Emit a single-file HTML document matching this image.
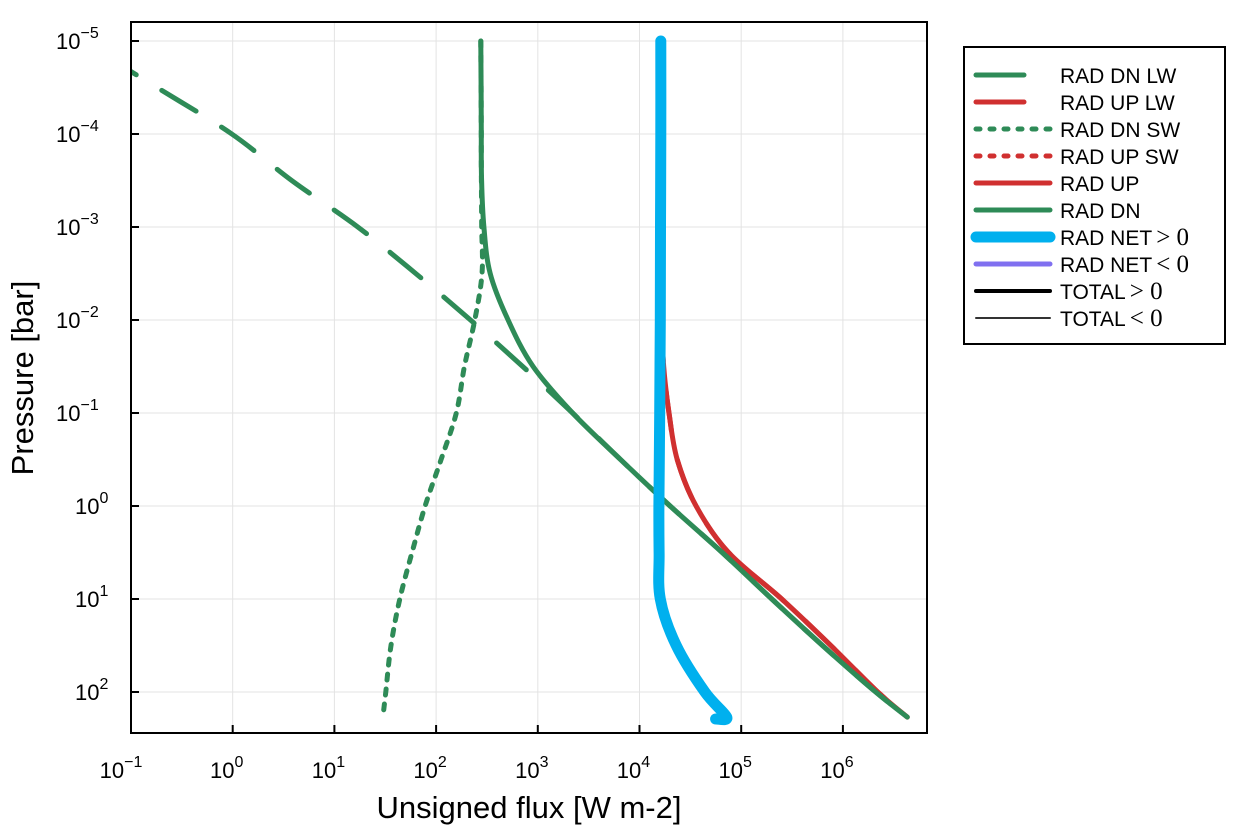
<!DOCTYPE html>
<html><head><meta charset="utf-8"><style>
body{margin:0;background:#fff;}
svg{display:block;font-family:"Liberation Sans",sans-serif;}
</style></head><body>
<svg id="chart" width="1250" height="833" xmlns="http://www.w3.org/2000/svg">
<rect width="1250" height="833" fill="#fff"/>
<g id="grid"></g>
<g id="series"></g>
<rect x="131" y="22" width="796" height="711" fill="none" stroke="#000" stroke-width="2"/>
<g id="ticks"></g>
<text x="529" y="818" font-size="31" text-anchor="middle">Unsigned flux [W m-2]</text>
<text transform="translate(33,378) rotate(-90)" font-size="31" text-anchor="middle">Pressure [bar]</text>
<g id="legend"></g>
</svg>
<script>
const xTicks=[-1,0,1,2,3,4,5,6];
const yTicks=[-5,-4,-3,-2,-1,0,1,2];
const pressure=[1e-5,3.16e-5,1e-4,3.16e-4,1e-3,3.16e-3,1e-2,3.16e-2,0.1,0.316,1,3.16,10,31.6,100,186];
const dnLW=[0.032,0.18,0.98,3.8,17,63,218,710,2200,6500,2.0e4,6.5e4,2.0e5,6.3e5,2.1e6,4.3e6];
const dnSW=[275,277,278,279,281,283,240,190,158,112,78,58,44,36,32,30];
const radDN=[275,277,278,280,295,340,510,900,2200,6500,2.0e4,6.5e4,2.0e5,6.3e5,2.1e6,4.3e6];
const radUP=[16500,16500,16500,16500,16500,16500,16500,17300,1.95e4,2.35e4,3.6e4,7.5e4,2.5e5,7.6e5,2.2e6,4.3e6];
const netP=[1e-5,1e-4,1e-3,1e-2,0.1,1,3.16,10,31.6,100,186,195];
const netF=[16200,16200,16100,16000,15800,15500,15600,16000,23000,44000,72000,56000];
const legendLabels=["RAD DN LW","RAD UP LW","RAD DN SW","RAD UP SW","RAD UP","RAD DN","RAD NET","RAD NET","TOTAL","TOTAL"];
const legendSuffix=["","","","","","","> 0","< 0","> 0","< 0"];

const NS="http://www.w3.org/2000/svg";
const X=v=>131+(Math.log10(v)+1)*101.7;
const Y=v=>41+(Math.log10(v)+5)*93;
const XL=l=>131+(l+1)*101.7, YL=l=>41+(l+5)*93;
function mk(t,a,p){const e=document.createElementNS(NS,t);for(const k in a)e.setAttribute(k,a[k]);p.appendChild(e);return e;}
const grid=document.getElementById('grid'),ticks=document.getElementById('ticks'),ser=document.getElementById('series'),leg=document.getElementById('legend');
const sup=t=>(t<0?'\u2212':'')+Math.abs(t);
xTicks.forEach(t=>{const x=XL(t);
 const g=mk('line',{x1:x,x2:x,y1:22,y2:733,stroke:'#e3e3e3','stroke-width':1},grid);
 
 
 const tk=mk('line',{x1:x,x2:x,y1:733,y2:725,stroke:'#000','stroke-width':2},ticks);
 
 
 const tx=mk('text',{x:x-(t<0?10:6),y:778,'font-size':22,'text-anchor':'middle'},ticks);
 
 
 tx.innerHTML='10<tspan dy="-11" font-size="16">'+sup(t)+'</tspan>';
});
yTicks.forEach(t=>{const y=YL(t);
 const g=mk('line',{x1:131,x2:927,y1:y,y2:y,stroke:'#e3e3e3','stroke-width':1},grid);
 
 
 const tk=mk('line',{x1:131,x2:139,y1:y,y2:y,stroke:'#000','stroke-width':2},ticks);
 
 
 const tx=mk('text',{x:t<0?56:75,y:y+8,'font-size':22},ticks);
 
 
 tx.innerHTML='10<tspan dy="-11" font-size="16">'+sup(t)+'</tspan>';
});
function smooth(pts){
 let d='M'+pts[0][0].toFixed(1)+','+pts[0][1].toFixed(1);
 for(let i=0;i<pts.length-1;i++){
  const p0=pts[Math.max(i-1,0)],p1=pts[i],p2=pts[i+1],p3=pts[Math.min(i+2,pts.length-1)];
  const c1=[p1[0]+(p2[0]-p0[0])/6,p1[1]+(p2[1]-p0[1])/6],c2=[p2[0]-(p3[0]-p1[0])/6,p2[1]-(p3[1]-p1[1])/6];
  d+='C'+c1[0].toFixed(1)+','+c1[1].toFixed(1)+' '+c2[0].toFixed(1)+','+c2[1].toFixed(1)+' '+p2[0].toFixed(1)+','+p2[1].toFixed(1);
 }
 return d;
}
function line(fl,pr,st,name){
 const pts=fl.map((f,i)=>[X(f),Y(pr[i])]);
 const e=mk('path',Object.assign({d:smooth(pts),fill:'none','stroke-linecap':'round','stroke-linejoin':'round'},st),ser);
 
 
}
const cp=mk('clipPath',{id:'cp'},document.getElementById('chart'));
mk('rect',{x:131,y:22,width:796,height:711},cp);
ser.setAttribute('clip-path','url(#cp)');
const G='#2e8b57',R='#d03030',C='#00b0ee';
line(radUP,pressure,{stroke:R,'stroke-width':5},'rad-up-line');
line(radUP,pressure,{stroke:R,'stroke-width':5,'stroke-dasharray':'40 30'},'rad-up-lw-line');
line(radDN,pressure,{stroke:G,'stroke-width':5},'rad-dn-line');
line(dnSW,pressure,{stroke:G,'stroke-width':5,'stroke-dasharray':'6 9'},'rad-dn-sw-line');
line(dnLW,pressure,{stroke:G,'stroke-width':5,'stroke-dasharray':'40 30','stroke-dashoffset':'-25'},'rad-dn-lw-line');
line(netF,netP,{stroke:C,'stroke-width':11},'rad-net-line');
mk('rect',{x:964,y:47,width:261,height:297,fill:'#fff',stroke:'#000','stroke-width':2},leg);
const lst=[{s:G,w:5,d:'',x2:1024},{s:R,w:5,d:'',x2:1024},{s:G,w:5,d:'4 10'},{s:R,w:5,d:'4 10'},{s:R,w:5,d:''},{s:G,w:5,d:''},{s:C,w:11,d:''},{s:'#8070f0',w:5,d:''},{s:'#000',w:4,d:''},{s:'#333',w:2,d:''}];
legendLabels.forEach((l,i)=>{const y=75+i*27;const o=lst[i];
 const ln=mk('line',{x1:976,x2:o.x2||1050,y1:y,y2:y,stroke:o.s,'stroke-width':o.w,'stroke-linecap':'round','stroke-dasharray':o.d},leg);
 
 
 const t=mk('text',{x:1060,y:y+8,'font-size':21},leg);
 
 
 t.textContent=l;
 if(legendSuffix[i]){const s=mk('tspan',{'font-family':'Liberation Serif,serif','font-size':25,dx:4},t);s.textContent=legendSuffix[i];}
});
</script>
</body></html>
